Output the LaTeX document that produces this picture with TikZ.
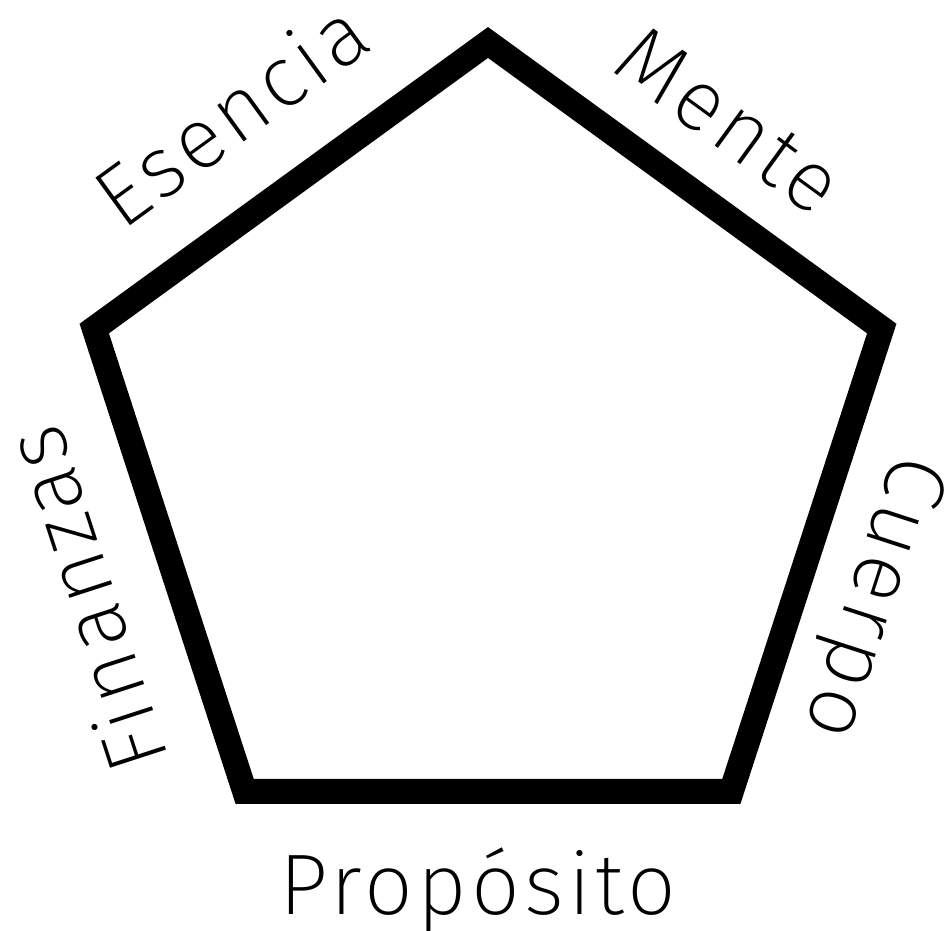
\documentclass[tikz,border=0pt]{standalone}
\usepackage{fontspec}
\IfFontExistsTF{Fira Sans ExtraLight}
  {\newfontfamily\lblfont{Fira Sans ExtraLight}[LetterSpace=5]}
  {\IfFontExistsTF{Fira Sans Light}
    {\newfontfamily\lblfont{Fira Sans Light}[LetterSpace=5]}
    {\newfontfamily\lblfont{Fira Sans}[LetterSpace=5]}}
\usetikzlibrary{positioning}

\tikzset{
  side/.style={font=\lblfont\fontsize{86}{86}\selectfont, anchor=base, inner sep=0pt},
}

\begin{document}
\begin{tikzpicture}[x=1pt, y=1pt]
\useasboundingbox (0,0) rectangle (948,930);

% Corners
\begin{scope}[shift={(488,473.5)}]
\coordinate (top) at (90:414);
\coordinate (left) at (162:414);
\coordinate (botleft) at (234:414);
\coordinate (botright) at (306:414);
\coordinate (right) at (18:414);
\end{scope}

% Pentagon
\draw[line width=25pt, line join=miter] (top) -- (left) -- (botleft) -- (botright) -- (right) -- cycle;

% Side labels
\node[side, rotate=36] (esencia) at (249,791) {Esencia};
\node[side, rotate=-36] (mente) at (712,786) {Mente};
\node[side, rotate=-108] (cuerpo) at (850,340) {Cuerpo};
\node[side] (proposito) at (478,16) {Propósito};
\node[side, rotate=108] (finanzas) at (114,340) {Finanzas};
\end{tikzpicture}
\end{document}
